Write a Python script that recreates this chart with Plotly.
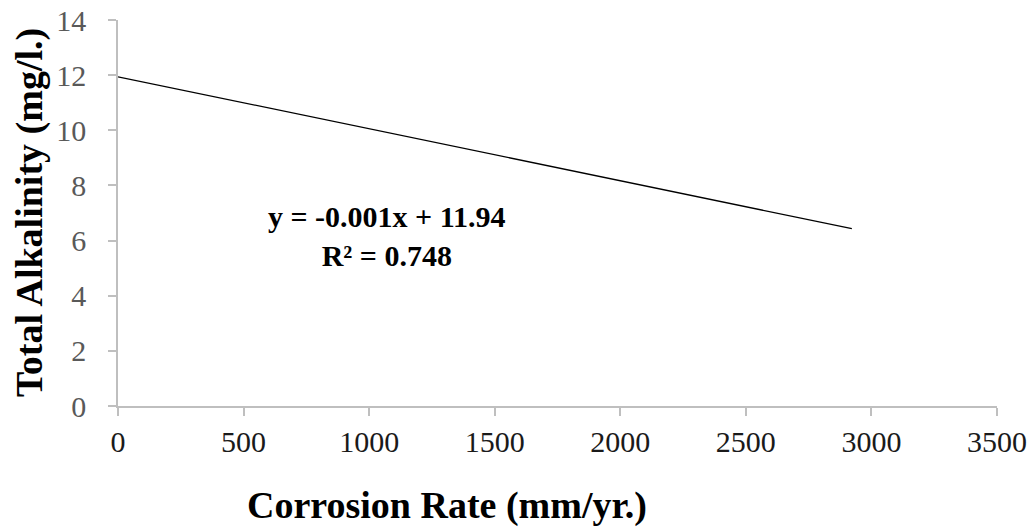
import plotly.graph_objects as go

# Trendline endpoints
x_vals = [0, 2922]
y_vals = [11.94, 6.43]

x_ticks = [0, 500, 1000, 1500, 2000, 2500, 3000, 3500]
y_ticks = [0, 2, 4, 6, 8, 10, 12, 14]

eq_text = "y = -0.001x + 11.94<br>R² = 0.748"
x_title = "Corrosion Rate (mm/yr.)"
y_title = "Total Alkalinity (mg/l.)"

FONT = "Liberation Serif, Times New Roman, serif"

L, R, T, B = 118, 997, 20, 406
W, H = 1032, 531

fig = go.Figure()
fig.add_trace(go.Scatter(x=x_vals, y=y_vals, mode="lines",
                         line=dict(color="black", width=1.3), showlegend=False,
                         hoverinfo="skip"))

fig.update_layout(
    width=W, height=H,
    margin=dict(l=L, r=W - R, t=T, b=H - B, autoexpand=False),
    paper_bgcolor="white", plot_bgcolor="white",
    font=dict(family=FONT, size=30, color="black"),
    xaxis=dict(range=[0, 3500], tickvals=x_ticks, ticktext=[str(v) for v in x_ticks],
               showgrid=False, zeroline=False, showline=True, linecolor="#bfbfbf",
               linewidth=1.5, ticks="outside", ticklen=8, tickcolor="#bfbfbf",
               tickwidth=1.5, ticklabelstandoff=0, automargin=False,
               tickfont=dict(family=FONT, size=30, color="#1a1a1a"),
               fixedrange=True),
    yaxis=dict(range=[0, 14], tickvals=y_ticks, ticktext=[str(v) for v in y_ticks],
               showgrid=False, zeroline=False, showline=True, linecolor="#bfbfbf",
               linewidth=1.5, ticks="outside", ticklen=8, tickcolor="#bfbfbf",
               tickwidth=1.5, ticklabelstandoff=16, automargin=False,
               tickfont=dict(family=FONT, size=30, color="#595959"),
               fixedrange=True),
)
# regression equation label
fig.add_annotation(x=(387 - L) / (R - L) * 3500, y=(B - 236) / (B - T) * 14, xref="x", yref="y",
                   text="<b>" + eq_text + "</b>", showarrow=False, align="center",
                   font=dict(family=FONT, size=30, color="black"))
# axis titles
fig.add_annotation(x=(447 - L) / (R - L), y=-(505 - B) / (B - T), xref="paper", yref="paper",
                   yanchor="middle", xanchor="center", text="<b>" + x_title + "</b>", showarrow=False,
                   font=dict(family=FONT, size=38, color="black"))
fig.add_annotation(x=-(L - 29) / (R - L), y=0.5, xref="paper", yref="paper",
                   yanchor="middle", xanchor="center", textangle=-90,
                   text="<b>" + y_title + "</b>", showarrow=False,
                   font=dict(family=FONT, size=38, color="black"))

fig.write_html("out.html")
